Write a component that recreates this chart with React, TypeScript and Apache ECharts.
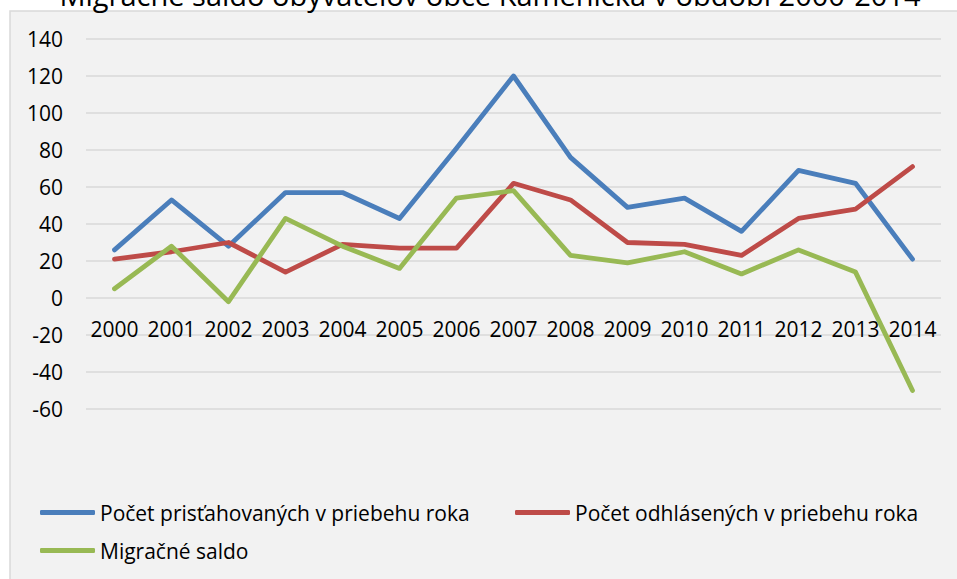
import React, { useEffect, useRef } from "react";
import * as echarts from "echarts";

const titleText = "Migračné saldo obyvateľov obce Kamenička v období 2000-2014";
const years = ["2000", "2001", "2002", "2003", "2004", "2005", "2006", "2007", "2008", "2009", "2010", "2011", "2012", "2013", "2014"];
const seriesNames = [
  "Počet prisťahovaných v priebehu roka",
  "Počet odhlásených v priebehu roka",
  "Migračné saldo",
];
const immigrants = [26, 53, 28, 57, 57, 43, 81, 120, 76, 49, 54, 36, 69, 62, 21];
const emigrants = [21, 25, 30, 14, 29, 27, 27, 62, 53, 30, 29, 23, 43, 48, 71];
const saldo = [5, 28, -2, 43, 28, 16, 54, 58, 23, 19, 25, 13, 26, 14, -50];
const yMin = -60;
const yMax = 140;
const yStep = 20;

const colors = ["#4a7ebb", "#be4b48", "#98b954"];
const FONT = "'Open Sans', 'Noto Sans', sans-serif";
const FS = 21;

export default function App() {
  const ref = useRef<HTMLDivElement>(null);
  useEffect(() => {
    if (!ref.current) return;
    const chart = echarts.init(ref.current, undefined, { renderer: "svg" });
    const values = [immigrants, emigrants, saldo];
    const legendPos = [
      { left: 40, top: 502 },
      { left: 515, top: 502 },
      { left: 40, top: 540 },
    ];
    const gridTop = 39;
    const gridHeight = 370;
    const zeroOffset = -Math.round((gridHeight * (0 - yMin)) / (yMax - yMin));
    chart.setOption({
      animation: false,
      backgroundColor: "#ffffff",
      textStyle: { fontFamily: FONT },
      graphic: [
        {
          type: "rect",
          z: -10,
          shape: { x: 10, y: 11, width: 960, height: 580 },
          style: { fill: "#f2f2f2", stroke: "#d9d9d9", lineWidth: 1.5 },
          silent: true,
        },
        {
          type: "text",
          z: -5,
          x: 490,
          y: -6,
          style: {
            text: titleText,
            fill: "#000000",
            font: `29px ${FONT}`,
            textAlign: "center",
            textVerticalAlign: "middle",
          },
          silent: true,
        },
      ],
      grid: { left: 86, right: 16, top: gridTop, height: gridHeight, containLabel: false },
      xAxis: {
        type: "category",
        data: years,
        boundaryGap: true,
        offset: zeroOffset,
        axisLine: { show: false, onZero: false },
        axisTick: { show: false },
        axisLabel: { color: "#000", fontSize: FS, margin: 20, fontFamily: FONT, interval: 0 },
        splitLine: { show: false },
      },
      yAxis: {
        type: "value",
        min: yMin,
        max: yMax,
        interval: yStep,
        axisLine: { show: false },
        axisTick: { show: false },
        axisLabel: { color: "#000", fontSize: FS, margin: 23, fontFamily: FONT },
        splitLine: { lineStyle: { color: "#d9d9d9", width: 1.5 } },
      },
      legend: seriesNames.map((n, i) => ({
        data: [n],
        left: legendPos[i].left,
        top: legendPos[i].top,
        padding: 0,
        icon: "roundRect",
        itemWidth: 55,
        itemHeight: 5,
        itemGap: 0,
        textStyle: { color: "#000", fontSize: FS, fontFamily: FONT },
        selectedMode: false,
      })),
      series: seriesNames.map((n, i) => ({
        name: n,
        type: "line",
        data: values[i],
        symbol: "none",
        color: colors[i],
        lineStyle: { color: colors[i], width: 4.8, cap: "round", join: "round" },
      })),
    });
    return () => chart.dispose();
  }, []);
  return (
    <div
      ref={ref}
      style={{ position: "fixed", left: 0, top: 0, width: 957, height: 579 }}
    />
  );
}
